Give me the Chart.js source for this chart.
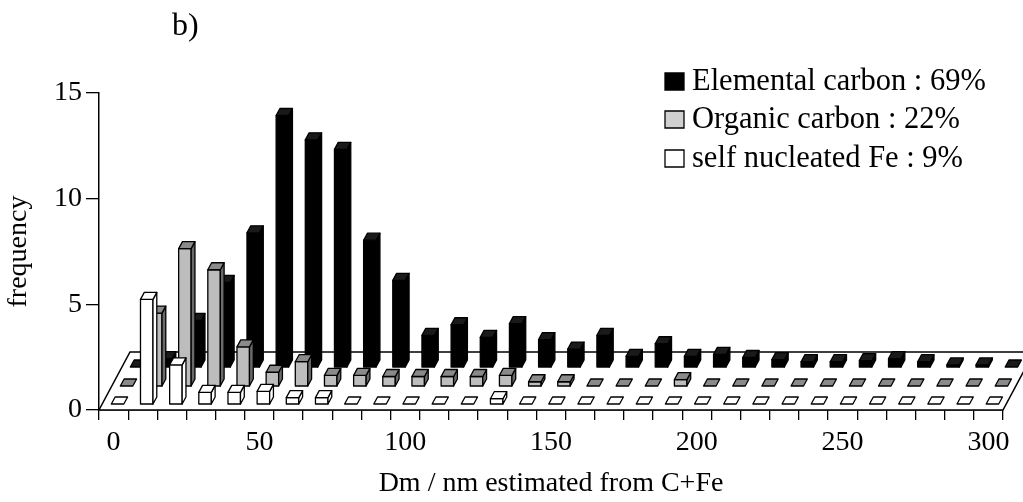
<!DOCTYPE html>
<html><head><meta charset="utf-8">
<script src="https://cdn.jsdelivr.net/npm/chart.js@4"></script>
<style>html,body{margin:0;padding:0;background:#fff}#wrap{width:1023px;height:502px;position:relative}</style>
</head><body><div id="wrap"><canvas id="c" width="1023" height="502"></canvas></div>
<script>
// ---- data ----
const categories = [0,10,20,30,40,50,60,70,80,90,100,110,120,130,140,150,160,170,180,190,200,210,220,230,240,250,260,270,280,290,300];
const elementalCarbon = [0,0.4,2.2,4.0,6.35,11.9,10.75,10.3,6.0,4.1,1.5,2.0,1.4,2.05,1.3,0.85,1.5,0.5,1.1,0.5,0.6,0.45,0.35,0.25,0.25,0.3,0.4,0.25,0.1,0.1,0];
const organicCarbon   = [0,3.45,6.5,5.5,1.85,0.65,1.15,0.5,0.5,0.45,0.45,0.45,0.45,0.5,0.2,0.2,0,0,0,0.3,0,0,0,0,0,0,0,0,0,0,0];
const selfNucleatedFe = [0,4.95,1.85,0.55,0.55,0.6,0.3,0.3,0,0,0,0,0,0.25,0,0,0,0,0,0,0,0,0,0,0,0,0,0,0,0,0];
const seriesNames = ['Elemental carbon : 69%','Organic carbon : 22%','self nucleated Fe : 9%'];
const yTicks = [0,5,10,15];
const xLabelStep = 5;

const FONT = '"Liberation Serif", "Times New Roman", serif';

// 3D look: depth offsets of each row (back -> front)
const rowOffset = [{dx:23,dy:-43},{dx:13,dy:-24},{dx:4,dy:-6}];
const faceColors = [
  {front:'#000000', side:'#000000', top:'#1a1a1a'},
  {front:'#bdbdbd', side:'#6a6a6a', top:'#8a8a8a'},
  {front:'#ffffff', side:'#ffffff', top:'#ffffff'}
];
const BAR_W = 12.5, TDX = 3.8, TDY = -7;
const FLOOR_DX = 31, FLOOR_DY = -58;

const floorPlugin = {
  id:'floor',
  beforeDatasetsDraw(chart){
    const {ctx, chartArea:a} = chart;
    ctx.save();
    ctx.beginPath();
    ctx.moveTo(a.left, a.bottom);
    ctx.lineTo(a.right, a.bottom);
    ctx.lineTo(a.right+FLOOR_DX, a.bottom+FLOOR_DY);
    ctx.lineTo(a.left+FLOOR_DX, a.bottom+FLOOR_DY);
    ctx.closePath();
    ctx.fillStyle='#fff'; ctx.fill();
    ctx.lineWidth=1.5; ctx.strokeStyle='#000'; ctx.stroke();
    ctx.restore();
  }
};

const bars3d = {
  id:'bars3d',
  afterDatasetsDraw(chart){
    const ctx = chart.ctx, ys = chart.scales.y;
    const base = ys.getPixelForValue(0);
    ctx.save();
    ctx.lineWidth = 1.3; ctx.strokeStyle = '#000'; ctx.lineJoin='round';
    for (let d=0; d<chart.data.datasets.length; d++){
      const meta = chart.getDatasetMeta(d);
      const vals = chart.data.datasets[d].data;
      const off = rowOffset[d], col = faceColors[d];
      meta.data.forEach((el,i)=>{
        const h = base - ys.getPixelForValue(vals[i]);
        const cx = el.x + off.dx, by = base + off.dy;
        const x0 = cx - BAR_W/2, x1 = cx + BAR_W/2, ty = by - h;
        if (h > 0.5){
          ctx.beginPath(); ctx.rect(x0, ty, BAR_W, h);
          ctx.fillStyle = col.front; ctx.fill(); ctx.stroke();
          ctx.beginPath();
          ctx.moveTo(x1, by); ctx.lineTo(x1+TDX, by+TDY); ctx.lineTo(x1+TDX, ty+TDY); ctx.lineTo(x1, ty); ctx.closePath();
          ctx.fillStyle = col.side; ctx.fill(); ctx.stroke();
        }
        ctx.beginPath();
        ctx.moveTo(x0, ty); ctx.lineTo(x1, ty); ctx.lineTo(x1+TDX, ty+TDY); ctx.lineTo(x0+TDX, ty+TDY); ctx.closePath();
        ctx.fillStyle = col.top; ctx.fill(); ctx.stroke();
      });
    }
    ctx.restore();
  }
};

const extrasPlugin = {
  id:'extras',
  afterDraw(chart){
    const ctx = chart.ctx;
    ctx.save();
    ctx.fillStyle='#000';
    ctx.font = '32px ' + FONT;
    ctx.textBaseline='alphabetic'; ctx.textAlign='left';
    ctx.fillText('b)', 172, 35);
    // legend
    const lx = 665, ly = [90,128,167];
    ctx.font = '30.5px ' + FONT;
    const sq = ['#000','#d0d0d0','#fff'];
    chart.data.datasets.forEach((ds,i)=>{
      ctx.beginPath(); ctx.rect(lx, ly[i]-17, 19, 17);
      ctx.fillStyle = sq[i]; ctx.fill();
      ctx.lineWidth=1.3; ctx.strokeStyle='#000'; ctx.stroke();
      ctx.fillStyle='#000';
      ctx.fillText(ds.label, lx+27, ly[i]);
    });
    ctx.restore();
  }
};

new Chart(document.getElementById('c'), {
  type:'bar',
  data:{
    labels: categories.map(String),
    datasets:[
      {label:seriesNames[0], data:elementalCarbon, backgroundColor:'rgba(0,0,0,0)', borderWidth:0, grouped:false},
      {label:seriesNames[1], data:organicCarbon, backgroundColor:'rgba(0,0,0,0)', borderWidth:0, grouped:false},
      {label:seriesNames[2], data:selfNucleatedFe, backgroundColor:'rgba(0,0,0,0)', borderWidth:0, grouped:false}
    ]
  },
  options:{
    responsive:false, animation:false, devicePixelRatio:1,
    events:[],
    layout:{padding:{left:0,right:20,top:93,bottom:0}},
    plugins:{legend:{display:false}, tooltip:{enabled:false}, title:{display:false}},
    scales:{
      x:{
        type:'category', offset:true,
        grid:{display:true, offset:true, drawOnChartArea:false, drawTicks:true, tickLength:10, color:'#000', lineWidth:1.3},
        border:{display:true, color:'#000', width:1.5},
        ticks:{autoSkip:false, maxRotation:0, minRotation:0, padding:6, color:'#000',
          font:{family:FONT, size:28},
          callback:(v,i)=> (i % xLabelStep === 0 ? categories[i] : '')},
        title:{display:true, text:'Dm / nm estimated from C+Fe', color:'#000', font:{family:FONT, size:28}, padding:{top:4,bottom:2}},
        afterFit:(s)=>{ s.height = 92; }
      },
      y:{
        min:0, max:15,
        afterBuildTicks:(s)=>{ s.ticks = yTicks.map(v=>({value:v})); },
        grid:{display:true, drawOnChartArea:false, drawTicks:true, tickLength:13, color:'#000', lineWidth:1.3},
        border:{display:true, color:'#000', width:1.5},
        ticks:{padding:4, color:'#000', font:{family:FONT, size:28}},
        title:{display:true, text:'frequency', color:'#000', font:{family:FONT, size:28}, padding:{top:2,bottom:4}},
        afterFit:(s)=>{ s.width = 99; }
      }
    }
  },
  plugins:[floorPlugin, bars3d, extrasPlugin]
});
</script></body></html>
